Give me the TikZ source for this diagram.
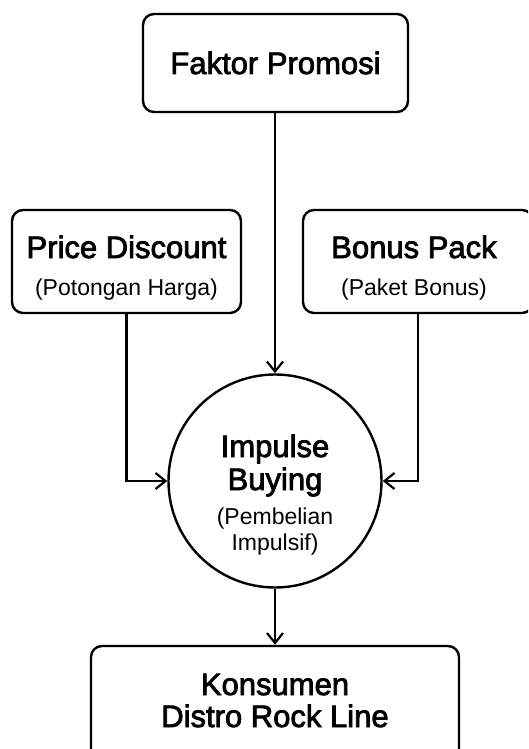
\documentclass[tikz,border=0pt]{standalone}
\usepackage{fontspec}
\setmainfont{Liberation Sans}
\newfontfamily\medfont[FakeBold=2.5]{Liberation Sans}
\usetikzlibrary{arrows.meta}
\tikzset{
  box/.style={draw=black, line width=2.4pt, rounded corners=11pt, fill=white, inner sep=0pt},
  ttl/.style={anchor=base, inner sep=0pt, font=\medfont\fontsize{31}{34}\selectfont},
  sub/.style={anchor=base, inner sep=0pt, font=\fontsize{23}{26}\selectfont},
  conn/.style={draw=black, line width=2.2pt, -{Straight Barb[length=10pt,width=16pt,line width=2.2pt]}},
}
\begin{document}
\begin{tikzpicture}[x=1pt,y=-1pt]
\useasboundingbox (0,0) rectangle (528,749);
\fill[white] (0,0) rectangle (528,749);
\clip (0,0) rectangle (528,749);
% boxes
\node[box, minimum width=265pt, minimum height=98pt] (fp) at (275.5,63) {};
\node[box, minimum width=229pt, minimum height=103pt] (pd) at (126.5,261.5) {};
\node[box, minimum width=230pt, minimum height=103pt] (bp) at (418,261.5) {};
\node[draw=black, line width=2.4pt, circle, minimum size=213pt, inner sep=0pt, fill=white] (ib) at (275,481) {};
\node[box, minimum width=368pt, minimum height=114pt] (ks) at (275,703) {};
% texts
\node[ttl] (t1) at (275.5,74) {Faktor Promosi};
\node[ttl] (t2) at (126.5,258) {Price Discount};
\node[sub] (s2) at (126.5,295) {(Potongan Harga)};
\node[ttl] (t3) at (414,258) {Bonus Pack};
\node[sub] (s3) at (414,295) {(Paket Bonus)};
\node[ttl] (t4) at (275,457) {Impulse};
\node[ttl] (t5) at (275,490) {Buying};
\node[sub] (s4) at (275,524) {(Pembelian};
\node[sub] (s5) at (275,550) {Impulsif)};
\node[ttl] (t6) at (275,695) {Konsumen};
\node[ttl] (t7) at (275,727) {Distro Rock Line};
% connectors
\draw[conn] (fp.south -| ib.north) -- (ib.north);
\draw[conn] (pd.south) |- (ib.west);
\draw[conn] (bp.south) |- (ib.east);
\draw[conn] (ib.south) -- (ks.north -| ib.south);
\end{tikzpicture}
\end{document}
